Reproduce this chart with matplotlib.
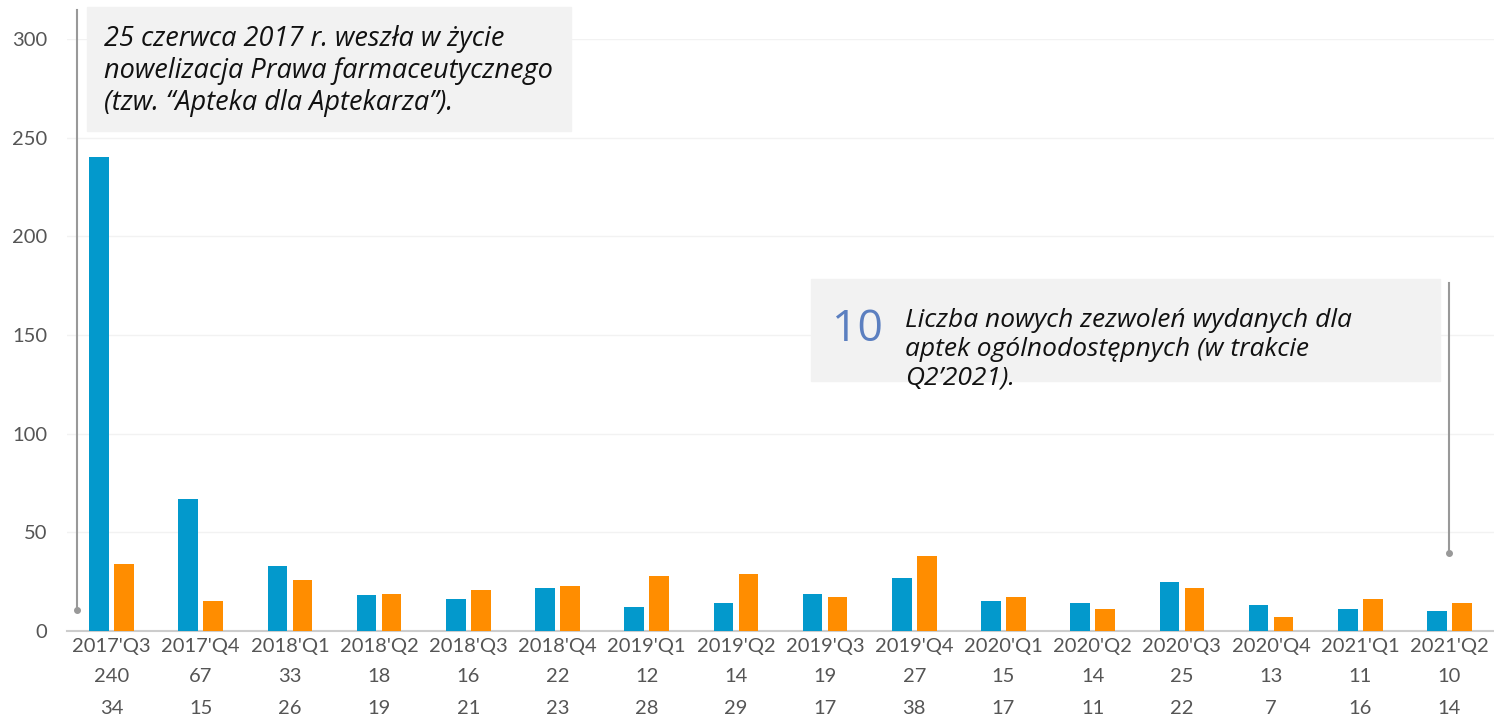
import numpy as np
import matplotlib.pyplot as plt
from matplotlib.patches import Rectangle
from matplotlib.lines import Line2D

# data
quarters = ["2017'Q3", "2017'Q4", "2018'Q1", "2018'Q2", "2018'Q3", "2018'Q4",
            "2019'Q1", "2019'Q2", "2019'Q3", "2019'Q4", "2020'Q1", "2020'Q2",
            "2020'Q3", "2020'Q4", "2021'Q1", "2021'Q2"]
blue_vals = [240, 67, 33, 18, 16, 22, 12, 14, 19, 27, 15, 14, 25, 13, 11, 10]
orange_vals = [34, 15, 26, 19, 21, 23, 28, 29, 17, 38, 17, 11, 22, 7, 16, 14]
yticks = [0, 50, 100, 150, 200, 250, 300]

note1 = "25 czerwca 2017 r. weszła w życie\nnowelizacja Prawa farmaceutycznego\n(tzw. “Apteka dla Aptekarza”)."
note2_num = "10"
note2 = "Liczba nowych zezwoleń wydanych dla\naptek ogólnodostępnych (w trakcie\nQ2’2021)."

blue = '#0399CC'
orange = '#FF8D00'
grey_txt = '#555555'
fs = 14.5

W, H = 1494, 717
fig = plt.figure(figsize=(W / 100, H / 100), dpi=100)
ax = fig.add_axes([67 / W, (H - 631) / H, (1494 - 67) / W, (631 - 39) / H])

x = np.arange(len(quarters))
ax.bar(x - 0.14, blue_vals, width=0.22, color=blue, zorder=3)
ax.bar(x + 0.14, orange_vals, width=0.22, color=orange, zorder=3)

ax.set_xlim(-0.5, len(quarters) - 0.5)
ax.set_ylim(0, 300)
ax.set_yticks(yticks)
ax.set_yticklabels([str(v) for v in yticks], family='Lato', fontsize=fs, color=grey_txt)
ax.tick_params(axis='y', length=0, pad=14)
ax.set_xticks(x)
ax.set_xticklabels(quarters, family='Lato', fontsize=fs, color=grey_txt)
ax.tick_params(axis='x', length=0, pad=5)
ax.grid(axis='y', color='#f2f2f2', linewidth=1, zorder=0)
for s in ['top', 'right', 'left']:
    ax.spines[s].set_visible(False)
ax.spines['bottom'].set_color('#cccccc')
ax.spines['bottom'].set_linewidth(1.5)

# value rows under the axis
for i in range(len(quarters)):
    ax.text(x[i], -46 / 592, str(blue_vals[i]), transform=ax.get_xaxis_transform(),
            ha='center', va='center', family='Lato', fontsize=fs, color=grey_txt)
    ax.text(x[i], -77 / 592, str(orange_vals[i]), transform=ax.get_xaxis_transform(),
            ha='center', va='center', family='Lato', fontsize=fs, color=grey_txt)


def fx(px):
    return px / W


def fy(py):
    return 1 - py / H


# annotation 1
fig.add_artist(Rectangle((fx(87), fy(131)), fx(571) - fx(87), fy(7) - fy(131),
                         transform=fig.transFigure, color='#f2f2f2', zorder=1))
fig.text(fx(104), fy(71), note1, ha='left', va='center', family='Open Sans',
         style='italic', fontsize=19.5, linespacing=1.2, color='#111111')
fig.add_artist(Line2D([fx(77), fx(77)], [fy(10), fy(610)], transform=fig.transFigure,
                      color='#999999', linewidth=1.5))
fig.add_artist(Line2D([fx(77)], [fy(610)], transform=fig.transFigure, marker='o',
                      markersize=4, color='#999999'))

# annotation 2
fig.add_artist(Rectangle((fx(811), fy(381)), fx(1440) - fx(811), fy(279) - fy(381),
                         transform=fig.transFigure, color='#f2f2f2', zorder=1))
fig.text(fx(832), fy(330), note2_num, ha='left', va='center', family='Open Sans',
         fontsize=32, color='#5b7fc0')
fig.text(fx(905), fy(349), note2, ha='left', va='center', family='Open Sans',
         style='italic', fontsize=19, linespacing=1.2, color='#111111')
fig.add_artist(Line2D([fx(1449), fx(1449)], [fy(283), fy(553)], transform=fig.transFigure,
                      color='#999999', linewidth=1.5))
fig.add_artist(Line2D([fx(1449)], [fy(553)], transform=fig.transFigure, marker='o',
                      markersize=4, color='#999999'))

fig.savefig('out.png', dpi=100)
